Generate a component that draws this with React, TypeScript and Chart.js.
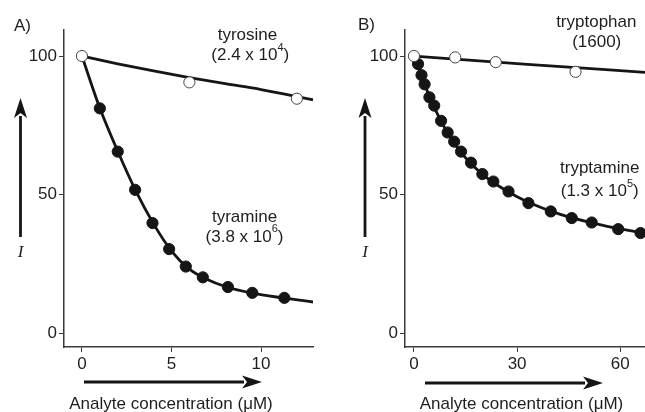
import React, { useEffect, useRef } from 'react';
import { Chart, registerables } from 'chart.js';

Chart.register(...registerables);

// ---------- data ----------
const Y_TICKS = [0, 50, 100];
const X_TICKS_A = [0, 5, 10];
const X_TICKS_B = [0, 30, 60];

// Panel A
const tyrosineConc = [0, 6, 12];
const tyrosineI = [100, 90.5, 84.6];
const tyrosineFitConc = [0, 2, 4, 6, 8, 10, 12.9];
const tyrosineFitI = [100, 97.2, 94.6, 92.2, 90.0, 87.9, 84.2];

const tyramineConc = [1.0, 2.0, 2.97, 3.94, 4.87, 5.8, 6.75, 8.15, 9.51, 11.3];
const tyramineI = [81.1, 65.5, 51.7, 39.7, 30.3, 24.0, 20.1, 16.6, 14.5, 12.7];
const tyramineFitConc = [0, 1, 2, 3, 4, 5, 6, 7, 8, 9.5, 11.3, 12.9];
const tyramineFitI = [100, 81.2, 65.6, 51.4, 39.4, 29.6, 23.1, 19.3, 16.8, 14.4, 12.6, 11.2];

// Panel B
const tryptophanConc = [0, 12, 23.8, 47];
const tryptophanI = [100, 99.5, 97.8, 94.3];
const tryptophanFitConc = [0, 33, 67.2];
const tryptophanFitI = [100, 97.0, 94.1];

const tryptamineConc = [1.2, 2.2, 3.1, 4.5, 5.9, 7.9, 9.8, 11.7, 13.7, 16.6, 19.9, 23.1, 27.5, 33.3, 39.8, 45.9, 51.7, 59.4, 65.9];
const tryptamineI = [97.1, 93.1, 89.8, 85.1, 82.1, 76.6, 72.4, 69.1, 65.5, 61.5, 57.4, 54.7, 51.1, 46.9, 43.9, 41.5, 39.9, 37.5, 36.1];
const tryptamineFitConc = [0, 1, 2, 4, 6, 8, 10, 13, 16, 20, 25, 30, 35, 40, 45, 50, 55, 60, 67.2];
const tryptamineFitI = [100, 96.7, 93.5, 87, 81.3, 76.2, 71.8, 66.3, 61.9, 57.2, 52.8, 49.2, 46.3, 43.9, 41.9, 40.3, 38.9, 37.6, 36.0];

// ---------- styles ----------
const FONT = "'Liberation Sans', Arial, Helvetica, sans-serif";
const INK = '#151515';
const AXIS = '#3a3a3a';
const TEXT = '#1e1e1e';

const pts = (xs: number[], ys: number[]) => xs.map((x, i) => ({ x, y: ys[i] }));

const fitLine = (xs: number[], ys: number[]) => ({
  data: pts(xs, ys),
  showLine: true,
  borderColor: INK,
  borderWidth: 2.8,
  pointRadius: 0,
  cubicInterpolationMode: 'monotone' as const,
  order: 3,
});
const filled = (xs: number[], ys: number[]) => ({
  data: pts(xs, ys),
  showLine: false,
  pointRadius: 5.6,
  pointBorderWidth: 1,
  pointBackgroundColor: INK,
  pointBorderColor: INK,
  order: 2,
});
const open = (xs: number[], ys: number[]) => ({
  data: pts(xs, ys),
  showLine: false,
  pointRadius: 5.6,
  pointBorderWidth: 1,
  pointBackgroundColor: '#ffffff',
  pointBorderColor: '#444',
  order: 1,
});

type Note = { cx: number; base: number; pre: string; sup?: string; post?: string };
type Overlay = {
  label: string; labelX: number; labelY: number;
  yArrowX: number; yArrowBottom: number; yArrowTip: number;
  iX: number; iY: number;
  xArrowY: number; xArrowStart: number; xArrowTip: number;
  titleX: number; titleY: number;
  notes: Note[];
};

function drawArrow(ctx: CanvasRenderingContext2D, x1: number, y1: number, x2: number, y2: number) {
  const len = Math.hypot(x2 - x1, y2 - y1);
  const ux = (x2 - x1) / len, uy = (y2 - y1) / len;
  const px = -uy, py = ux;
  const headLen = 20, half = 6.5, notch = 5;
  ctx.strokeStyle = INK;
  ctx.fillStyle = INK;
  ctx.lineWidth = 2.8;
  ctx.beginPath();
  ctx.moveTo(x1, y1);
  ctx.lineTo(x2 - ux * (headLen - 2), y2 - uy * (headLen - 2));
  ctx.stroke();
  const bx = x2 - ux * headLen, by = y2 - uy * headLen;
  ctx.beginPath();
  ctx.moveTo(x2, y2);
  ctx.lineTo(bx + px * half, by + py * half);
  ctx.lineTo(bx + ux * notch, by + uy * notch);
  ctx.lineTo(bx - px * half, by - py * half);
  ctx.closePath();
  ctx.fill();
}

function drawNote(ctx: CanvasRenderingContext2D, n: Note) {
  const main = `17px ${FONT}`;
  const small = `11px ${FONT}`;
  ctx.font = main;
  const w1 = ctx.measureText(n.pre).width;
  const w3 = n.post ? ctx.measureText(n.post).width : 0;
  ctx.font = small;
  const w2 = n.sup ? ctx.measureText(n.sup).width : 0;
  let x = n.cx - (w1 + w2 + w3) / 2;
  ctx.textAlign = 'left';
  ctx.textBaseline = 'alphabetic';
  ctx.fillStyle = TEXT;
  ctx.font = main;
  ctx.fillText(n.pre, x, n.base);
  x += w1;
  if (n.sup) {
    ctx.font = small;
    ctx.fillText(n.sup, x, n.base - 9.5);
    x += w2;
  }
  if (n.post) {
    ctx.font = main;
    ctx.fillText(n.post, x, n.base);
  }
}

function overlayPlugin(o: Overlay) {
  return {
    id: 'overlay',
    afterDraw(chart: any) {
      const ctx: CanvasRenderingContext2D = chart.ctx;
      ctx.save();
      ctx.fillStyle = TEXT;
      ctx.font = `17px ${FONT}`;
      ctx.textAlign = 'left';
      ctx.textBaseline = 'alphabetic';
      ctx.fillText(o.label, o.labelX, o.labelY);
      drawArrow(ctx, o.yArrowX, o.yArrowBottom, o.yArrowX, o.yArrowTip);
      drawArrow(ctx, o.xArrowStart, o.xArrowY, o.xArrowTip, o.xArrowY);
      ctx.fillStyle = TEXT;
      ctx.font = `italic 17px 'Liberation Serif', 'Times New Roman', serif`;
      ctx.textAlign = 'center';
      ctx.textBaseline = 'middle';
      ctx.fillText('I', o.iX, o.iY);
      ctx.font = `17px ${FONT}`;
      ctx.textBaseline = 'alphabetic';
      ctx.fillText('Analyte concentration (μM)', o.titleX, o.titleY);
      o.notes.forEach((n) => drawNote(ctx, n));
      ctx.restore();
    },
  };
}

function buildConfig(p: {
  datasets: any[]; xMin: number; xMax: number; xTicks: number[];
  yAxisWidth: number; padRight: number; overlay: Overlay;
}) {
  const tickFont = { family: FONT, size: 17 };
  return {
    type: 'scatter' as const,
    data: { datasets: p.datasets },
    options: {
      responsive: false,
      animation: false as const,
      events: [],
      layout: { autoPadding: false, padding: { left: 0, top: 30, right: p.padRight, bottom: 0 } },
      plugins: { legend: { display: false }, tooltip: { enabled: false }, title: { display: false } },
      scales: {
        x: {
          type: 'linear' as const,
          min: p.xMin,
          max: p.xMax,
          afterBuildTicks: (s: any) => { s.ticks = p.xTicks.map((v) => ({ value: v })); },
          afterFit: (s: any) => { s.height = 65; },
          grid: { display: true, drawOnChartArea: false, drawTicks: true, tickLength: 5, color: AXIS, lineWidth: 1 },
          border: { display: true, color: AXIS, width: 1.5 },
          ticks: { font: tickFont, color: TEXT, padding: 2, maxRotation: 0, autoSkip: false },
        },
        y: {
          type: 'linear' as const,
          min: -5.05,
          max: 109.4,
          afterBuildTicks: (s: any) => { s.ticks = Y_TICKS.map((v) => ({ value: v })); },
          afterFit: (s: any) => { s.width = p.yAxisWidth; },
          grid: { display: true, drawOnChartArea: false, drawTicks: true, tickLength: 5, color: AXIS, lineWidth: 1 },
          border: { display: true, color: AXIS, width: 1.5 },
          ticks: { font: tickFont, color: TEXT, padding: 2, autoSkip: false },
        },
      },
    },
    plugins: [overlayPlugin(p.overlay)],
  };
}

export default function App() {
  const refA = useRef<HTMLCanvasElement | null>(null);
  const refB = useRef<HTMLCanvasElement | null>(null);

  useEffect(() => {
    if (!refA.current || !refB.current) return;
    const chartA = new Chart(refA.current, buildConfig({
      datasets: [
        fitLine(tyrosineFitConc, tyrosineFitI),
        fitLine(tyramineFitConc, tyramineFitI),
        filled(tyramineConc, tyramineI),
        open(tyrosineConc, tyrosineI),
      ],
      xMin: -1, xMax: 12.9, xTicks: X_TICKS_A,
      yAxisWidth: 64, padRight: 17,
      overlay: {
        label: 'A)', labelX: 14, labelY: 31,
        yArrowX: 20.5, yArrowBottom: 237, yArrowTip: 98,
        iX: 20.5, iY: 252.5,
        xArrowY: 382, xArrowStart: 84, xArrowTip: 262,
        titleX: 171, titleY: 408.5,
        notes: [
          { cx: 247.5, base: 39.5, pre: 'tyrosine' },
          { cx: 250.3, base: 60, pre: '(2.4 x 10', sup: '4', post: ')' },
          { cx: 244.5, base: 221.5, pre: 'tyramine' },
          { cx: 244.5, base: 241.5, pre: '(3.8 x 10', sup: '6', post: ')' },
        ],
      },
    }) as any);
    const chartB = new Chart(refB.current, buildConfig({
      datasets: [
        fitLine(tryptophanFitConc, tryptophanFitI),
        fitLine(tryptamineFitConc, tryptamineFitI),
        filled(tryptamineConc, tryptamineI),
        open(tryptophanConc, tryptophanI),
      ],
      xMin: -2.6, xMax: 67.2, xTicks: X_TICKS_B,
      yAxisWidth: 75, padRight: 0,
      overlay: {
        label: 'B)', labelX: 28, labelY: 30,
        yArrowX: 35, yArrowBottom: 237, yArrowTip: 98,
        iX: 35, iY: 253,
        xArrowY: 383, xArrowStart: 95, xArrowTip: 273,
        titleX: 191.5, titleY: 408.5,
        notes: [
          { cx: 266.3, base: 26.5, pre: 'tryptophan' },
          { cx: 266.7, base: 46.5, pre: '(1600)' },
          { cx: 269.7, base: 172.5, pre: 'tryptamine' },
          { cx: 269.7, base: 196, pre: '(1.3 x 10', sup: '5', post: ')' },
        ],
      },
    }) as any);
    return () => { chartA.destroy(); chartB.destroy(); };
  }, []);

  return (
    <div style={{ position: 'fixed', left: 0, top: 0, width: 645, height: 412, background: '#fff', overflow: 'hidden' }}>
      <canvas ref={refA} width={330} height={412}
        style={{ position: 'absolute', left: 0, top: 0, width: 330, height: 412, display: 'block' }} />
      <canvas ref={refB} width={315} height={412}
        style={{ position: 'absolute', left: 330, top: 0, width: 315, height: 412, display: 'block' }} />
    </div>
  );
}
